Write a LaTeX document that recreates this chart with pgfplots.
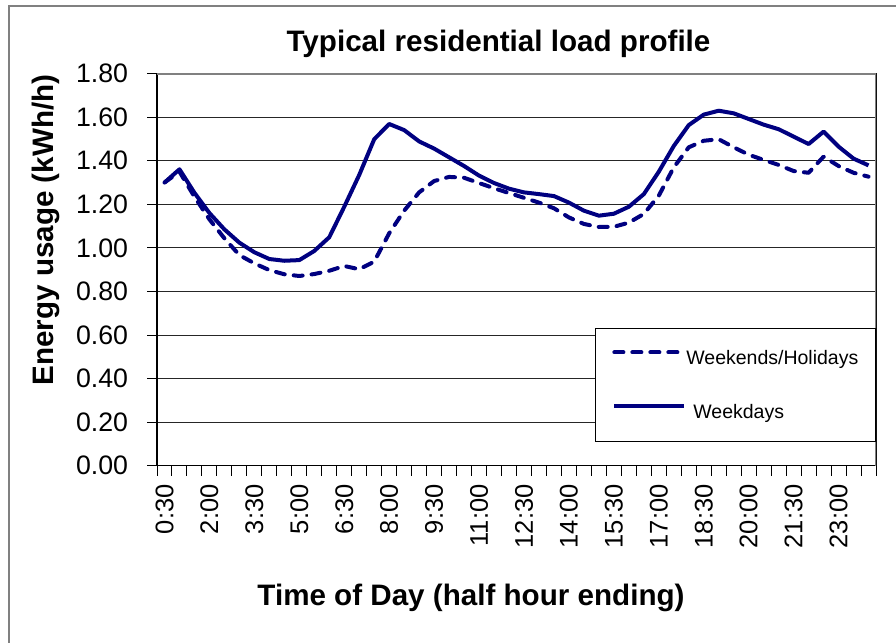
\documentclass[border=0pt]{standalone}
\usepackage{fontspec}
\setmainfont{Liberation Sans}
\usepackage{pgfplots}
\pgfplotsset{compat=1.18}
\definecolor{navy}{RGB}{0,0,128}
\definecolor{framegray}{RGB}{128,128,128}
\begin{document}
\begin{tikzpicture}[x=1bp,y=1bp]
\useasboundingbox (0,0) rectangle (896,643);
\draw[framegray, line width=2.2bp] (9,0) -- (9,637) -- (896,637);
\begin{axis}[
  at={(157bp,177.3bp)}, anchor=south west,
  scale only axis, width=719bp, height=392bp,
  xmin=-0.5, xmax=47.5, ymin=0, ymax=1.8,
  axis line style={black, line width=1.3bp},
  tick pos=left, tick align=outside,
  major tick length=10bp, minor tick length=10bp,
  xtick={0,3,...,45},
  xticklabels={0:30,2:00,3:30,5:00,6:30,8:00,9:30,11:00,12:30,14:00,15:30,17:00,18:30,20:00,21:30,23:00},
  minor xtick={-0.5,0.5,...,47.5},
  major x tick style={draw=none},
  minor x tick style={black, line width=1bp},
  ytick={0,0.2,0.4,0.6,0.8,1.0,1.2,1.4,1.6,1.8},
  y tick style={black, line width=1bp},
  ymajorgrids, major grid style={black!85, line width=0.9bp},
  /pgf/number format/assume math mode=true,
  yticklabel style={/pgf/number format/.cd, fixed, fixed zerofill, precision=2, /tikz/.cd,
     anchor=east, inner sep=0pt, font=\fontsize{26.7bp}{30bp}\selectfont},
  yticklabel shift=18.7bp,
  xticklabel style={rotate=90, anchor=east, inner sep=0pt, font=\fontsize{25.5bp}{28bp}\selectfont},
  xticklabel shift=8.5bp,
  legend style={at={(0.609,0.351)}, anchor=north west, draw=black, line width=1bp, fill=white,
     inner xsep=17bp, inner ysep=21.9bp, row sep=37.7bp,
     nodes={inner sep=0pt, font=\fontsize{19.5bp}{22bp}\selectfont},
     /tikz/every even column/.append style={column sep=6bp}},
  legend cell align=left,
  legend image code/.code={\draw[#1] (0bp,6bp) -- (70bp,6bp);},
]
\addplot[navy, line width=4bp, line cap=round, line join=round, dash pattern=on 9bp off 9bp] coordinates {
(0,1.30) (1,1.35) (2,1.235) (3,1.131) (4,1.044) (5,0.967) (6,0.929) (7,0.898)
(8,0.879) (9,0.871) (10,0.880) (11,0.895) (12,0.917) (13,0.902) (14,0.937) (15,1.067)
(16,1.171) (17,1.255) (18,1.307) (19,1.326) (20,1.322) (21,1.298) (22,1.274) (23,1.252)
(24,1.230) (25,1.208) (26,1.182) (27,1.140) (28,1.110) (29,1.096) (30,1.097) (31,1.116)
(32,1.156) (33,1.240) (34,1.370) (35,1.462) (36,1.492) (37,1.499) (38,1.462) (39,1.428)
(40,1.404) (41,1.381) (42,1.353) (43,1.345) (44,1.419) (45,1.376) (46,1.345) (47,1.327)
};
\addlegendentry{Weekends/Holidays}
\addplot[navy, line width=4bp, line join=round] coordinates {
(0,1.30) (1,1.361) (2,1.253) (3,1.160) (4,1.085) (5,1.024) (6,0.980) (7,0.949)
(8,0.941) (9,0.944) (10,0.986) (11,1.049) (12,1.189) (13,1.335) (14,1.499) (15,1.569)
(16,1.541) (17,1.489) (18,1.456) (19,1.416) (20,1.376) (21,1.332) (22,1.298) (23,1.272)
(24,1.255) (25,1.247) (26,1.238) (27,1.208) (28,1.171) (29,1.148) (30,1.157) (31,1.189)
(32,1.247) (33,1.350) (34,1.468) (35,1.564) (36,1.612) (37,1.630) (38,1.618) (39,1.592)
(40,1.566) (41,1.545) (42,1.511) (43,1.477) (44,1.534) (45,1.465) (46,1.410) (47,1.379)
};
\addlegendentry{\hspace*{7bp}Weekdays}
\draw[framegray, line width=2bp] (rel axis cs:0,1) -- (rel axis cs:1,1) -- (rel axis cs:1,0);
\end{axis}
\node[anchor=base, font=\fontsize{29.6bp}{34bp}\selectfont\bfseries] at (498.5,591) {Typical residential load profile};
\node[anchor=base, rotate=90, font=\fontsize{29.6bp}{34bp}\selectfont\bfseries] at (53.3,413) {Energy usage (kWh/h)};
\node[anchor=base, font=\fontsize{29.6bp}{34bp}\selectfont\bfseries] at (471,37) {Time of Day (half hour ending)};
\end{tikzpicture}
\end{document}
